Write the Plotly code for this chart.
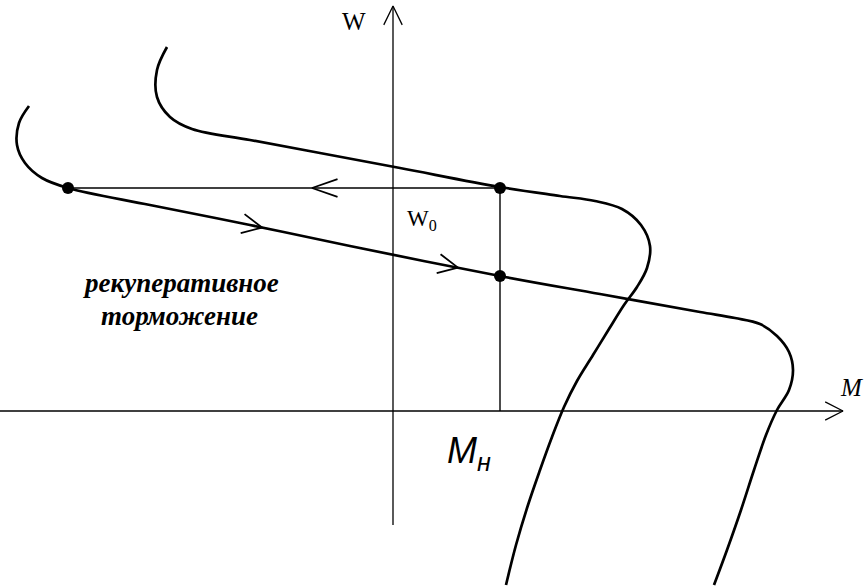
import numpy as np
import plotly.graph_objects as go

# Upper characteristic (M, W)
upper_M = [-226, -236, -236, -223, -201, -143, -73, 7, 107, 167, 202, 229, 248, 257, 254, 244, 231, 216, 200, 184, 171, 159, 147, 135, 123, 113]
upper_W = [364, 341, 314, 294, 282, 271, 258, 243, 224, 215, 210, 202, 186, 165, 143, 124, 106, 82, 56, 30, 4, -26, -59, -94, -134, -174]

# Lower characteristic (M, W)
lower_M = [-364, -374, -376, -368, -351, -325, -243, -143, -43, 107, 207, 307, 342, 367, 384, 396, 400, 396, 384, 373, 361, 348, 334, 321]
lower_W = [305, 288, 266, 248, 233, 223, 206, 186, 165, 135, 117, 99, 93, 87, 75, 59, 41, 21, 1, -24, -59, -99, -139, -174]

# Operating points
pts_M = [-325, 107, 107]
pts_W = [223, 223, 135]

# Axis extents
M_axis = [-393, 450]
W_axis = [-114, 405]
M_n = 107
W_start = 223

BLACK = "#000000"
fig = go.Figure()

def add_line(xs, ys, width=1.4, shape="linear", smoothing=1.0):
    fig.add_trace(go.Scatter(x=xs, y=ys, mode="lines",
                             line=dict(color=BLACK, width=width, shape=shape, smoothing=smoothing),
                             hoverinfo="skip", showlegend=False))

def chevron(tip_x, tip_y, dx, dy, length, half_angle_deg, width=1.6):
    d = np.array([dx, dy], float)
    d /= np.linalg.norm(d)
    a = np.deg2rad(half_angle_deg)
    out = []
    for s in (a, -a):
        rot = np.array([[np.cos(s), -np.sin(s)], [np.sin(s), np.cos(s)]])
        b = rot @ (-d) * length
        out.append((tip_x + b[0], tip_y + b[1]))
    xs = [out[0][0], tip_x, out[1][0]]
    ys = [out[0][1], tip_y, out[1][1]]
    add_line(xs, ys, width=width)

# Axes
add_line(M_axis, [0, 0], width=1.3)
add_line([0, 0], W_axis, width=1.3)
chevron(M_axis[1], 0, 1, 0, 20, 27, width=1.3)
chevron(0, W_axis[1], 0, 1, 21, 26, width=1.3)

# Horizontal (transition) and vertical (M_n) lines
add_line([pts_M[0], M_n], [W_start, W_start], width=1.4)
add_line([M_n, M_n], [0, W_start], width=1.4)

# Characteristics
add_line(upper_M, upper_W, width=2.7, shape="spline", smoothing=1.0)
add_line(lower_M, lower_W, width=2.7, shape="spline", smoothing=1.0)

# Direction arrows
seg_M = np.array(lower_M[5:12], float)
seg_W = np.array(lower_W[5:12], float)
slope = (seg_W[4] - seg_W[0]) / (seg_M[4] - seg_M[0])
chevron(-81, W_start, -1, 0, 27, 19, width=1.8)
for mx in (-131, 65):
    wy = float(np.interp(mx, seg_M, seg_W))
    chevron(mx, wy, 1, slope, 22, 26, width=1.8)

# Points
fig.add_trace(go.Scatter(x=pts_M, y=pts_W, mode="markers",
                         marker=dict(color=BLACK, size=12),
                         hoverinfo="skip", showlegend=False))

serif = "Liberation Serif, Times New Roman, serif"
ann = [
    dict(x=-39, y=390, text="W", size=25, family=serif),
    dict(x=458, y=24, text="<i>M</i>", size=25, family=serif),
    dict(x=29, y=191, text="W<sub>0</sub>", size=23, family=serif),
    dict(x=-212, y=128, text="<b><i>рекуперативное</i></b>", size=27, family=serif),
    dict(x=-214, y=95, text="<b><i>торможение</i></b>", size=27, family=serif),
    dict(x=76, y=-42, text="<i>M<sub>н</sub></i>", size=36, family="Liberation Sans, Arial, sans-serif"),
]
for a in ann:
    fig.add_annotation(x=a["x"], y=a["y"], text=a["text"],
                       font=dict(family=a["family"], size=a["size"], color=BLACK),
                       showarrow=False, xref="x", yref="y")

fig.update_layout(
    width=864, height=588,
    margin=dict(l=0, r=0, t=0, b=0),
    paper_bgcolor="white", plot_bgcolor="white",
    xaxis=dict(range=[-393, 471], visible=False, fixedrange=True),
    yaxis=dict(range=[-177, 411], visible=False, fixedrange=True),
    showlegend=False,
)

fig.write_html("out.html", config={"displayModeBar": False},
               post_script="document.body.style.margin='0px';")
